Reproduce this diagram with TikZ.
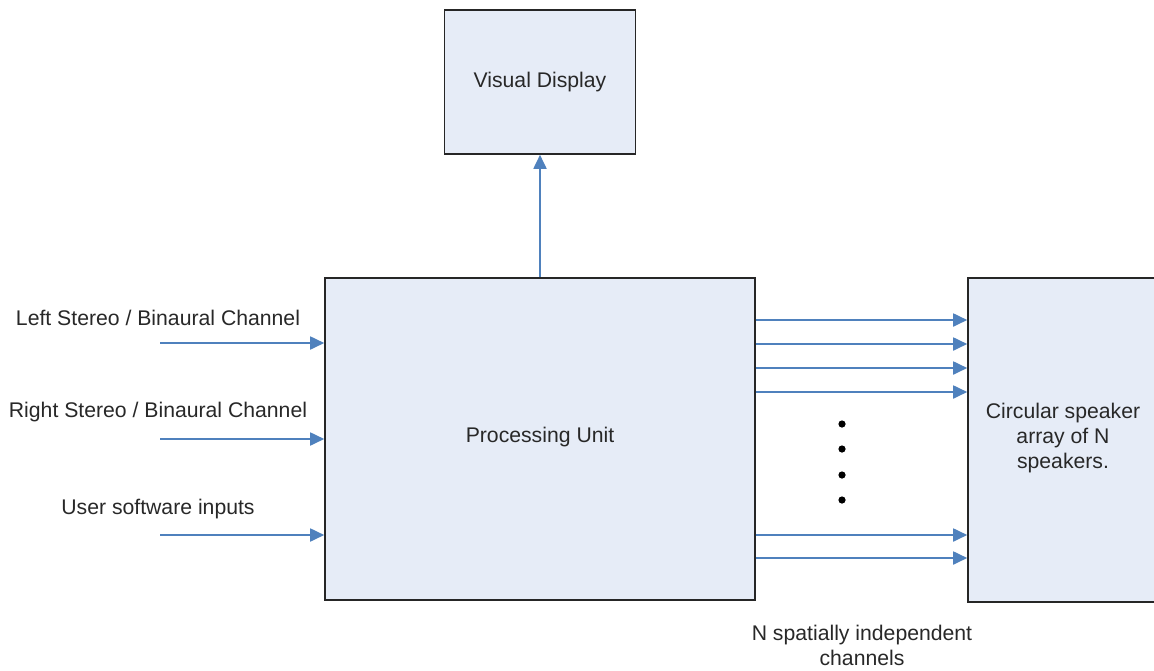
\documentclass[tikz,border=0pt]{standalone}
\usepackage{fontspec}
\setmainfont{Liberation Sans}
\usetikzlibrary{arrows.meta}
\definecolor{boxfill}{RGB}{230,236,247}
\definecolor{arrblue}{RGB}{79,129,189}
\definecolor{txt}{RGB}{40,40,40}
\tikzset{
  box/.style={draw=black!85, line width=1.6pt, fill=boxfill, text=txt, align=center,
    inner sep=0pt, font=\fontsize{21.2}{25}\selectfont},
  lbl/.style={text=txt, align=center, inner sep=0pt, font=\fontsize{21.2}{25}\selectfont},
  arr/.style={draw=arrblue, line width=1.8pt, -{Triangle[length=14pt,width=13pt]}},
  dotmark/.style={fill=black}
}
\begin{document}
\begin{tikzpicture}[x=1pt,y=-1pt]
\useasboundingbox[fill=white] (0,0) rectangle (1154,670);
\node[box, minimum width=191, minimum height=144] (vd) at (540,82) {Visual Display};
\node[box, minimum width=430, minimum height=322] (pu) at (540,439) {};
\node[lbl] (putext) at (540,437) {Processing Unit};
\node[box, minimum width=210, minimum height=324] (sp) at (1073,440) {};
\node[lbl] (sptext) at (1063,438) {Circular speaker\\array of N\\speakers.};
% up arrow
\draw[arr] (pu.north) -- (vd.south);
% inputs
\coordinate (l1) at (160,343);
\coordinate (l2) at (160,439);
\coordinate (l3) at (160,535);
\node[lbl] (t1) at (158,318) {Left Stereo / Binaural Channel};
\node[lbl] (t2) at (158,412) {Right Stereo / Binaural Channel};
\node[lbl] (t3) at (158,509) {User software inputs};
\draw[arr] (l1) -- (l1 -| pu.west);
\draw[arr] (l2) -- (l2 -| pu.west);
\draw[arr] (l3) -- (l3 -| pu.west);
% outputs
\foreach \yy in {320,344,368,392,535,558}{
  \draw[arr] (pu.east |- 0,\yy) -- (sp.west |- 0,\yy);
}
\foreach \yy in {424,449,475,500}{
  \fill[dotmark] (842,\yy) circle (3.6pt);
}
\node[lbl] (bt) at (862,645) {N spatially independent\\channels};
\end{tikzpicture}
\end{document}
